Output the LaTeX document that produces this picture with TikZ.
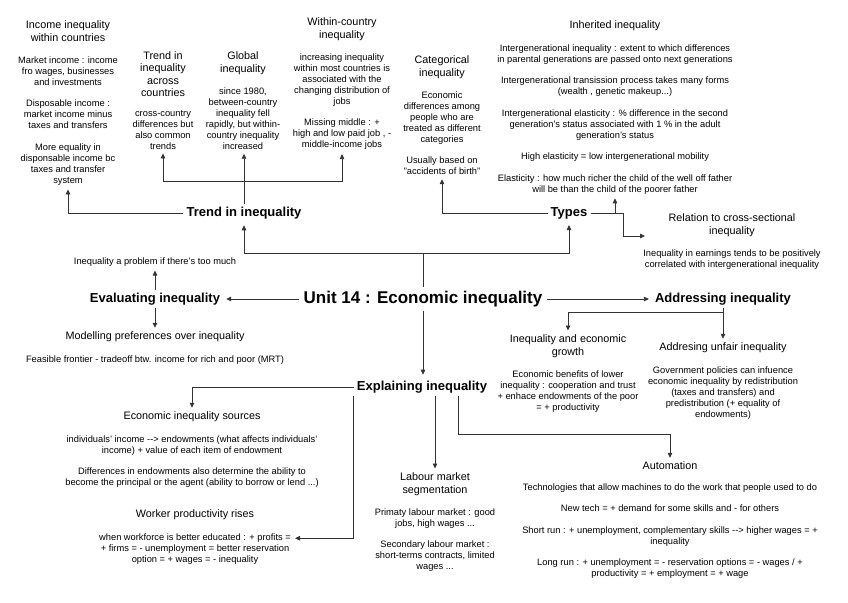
\documentclass[tikz,border=0pt]{standalone}
\usepackage{fontspec}
\setmainfont{Liberation Sans}
\usetikzlibrary{arrows.meta,positioning}

\begin{document}
\begin{tikzpicture}[x=1pt,y=-1pt,
  node distance=11pt,
  unitbox/.style={font=\fontsize{17}{20}\selectfont\bfseries,inner sep=4pt},
  head/.style={font=\fontsize{13}{15}\selectfont\bfseries,inner sep=3pt},
  topic/.style={align=center,font=\fontsize{10.8}{12.5}\selectfont,inner sep=1pt},
  note/.style={align=center,font=\fontsize{9.3}{11}\selectfont,inner sep=1pt},
  link/.style={line width=0.8pt,draw=black!80},
  arrow/.style={link,-{Triangle[length=5pt,width=4.5pt]},shorten >=3pt},
]
\useasboundingbox (0,0) rectangle (848,602);

% centre and the four branches
\node[unitbox] (unit) at (423,299) {Unit 14 : Economic inequality};
\node[head] (trend) at (244,213) {Trend in inequality};
\node[head] (types) at (569,213) {Types};
\node[head] (eval) at (155,299) {Evaluating inequality};
\node[head] (addr) at (723,299) {Addressing inequality};
\node[head] (expl) at (422,387) {Explaining inequality};

% trend in inequality
\node[topic] (incw) at (68,31) {Income inequality\\within countries};
\node[note,below=13pt of incw] (incb) {Market income : income\\fro wages, businesses\\and investments\\[10.5pt]Disposable income :\\market income minus\\taxes and transfers\\[10.5pt]More equality in\\disponsable income bc\\taxes and transfer\\system};
\node[topic] (across) at (163,74) {Trend in\\inequality\\across\\countries};
\node[note,below=of across] (acrossb) {cross-country\\differences but\\also common\\trends};
\node[topic] (global) at (243,63) {Global\\inequality};
\node[note,below=of global] (globalb) {since 1980,\\between-country\\inequality fell\\rapidly, but within-\\country inequality\\increased};
\node[topic] (within) at (342,29) {Within-country\\inequality};
\node[note,below=of within] (withinb) {increasing inequality\\within most countries is\\associated with the\\changing distribution of\\jobs\\[10.5pt]Missing middle : +\\high and low paid job , -\\middle-income jobs};

% types
\node[topic] (categ) at (442,67) {Categorical\\inequality};
\node[note,below=of categ] (categb) {Economic\\differences among\\people who are\\treated as different\\categories\\[10.5pt]Usually based on\\"accidents of birth"};
\node[topic] (inher) at (615,26) {Inherited inequality};
\node[note,below=of inher] (inherb) {Intergenerational inequality : extent to which differences\\in parental generations are passed onto next generations\\[10.5pt]Intergenerational transission process takes many forms\\(wealth , genetic makeup...)\\[10.5pt]Intergenerational elasticity : \% difference in the second\\generation's status associated with 1 \% in the adult\\generation's status\\[10.5pt]High elasticity = low intergenerational mobility\\[10.5pt]Elasticity : how much richer the child of the well off father\\will be than the child of the poorer father};
\node[topic] (relat) at (732,225) {Relation to cross-sectional\\inequality};
\node[note,below=of relat] (relatb) {Inequality in earnings tends to be positively\\correlated with intergenerational inequality};

% evaluating
\node[note] (prob) at (155,262) {Inequality a problem if there's too much};
\node[topic] (model) at (155,337) {Modelling preferences over inequality};
\node[note,below=of model] (modelb) {Feasible frontier - tradeoff btw. income for rich and poor (MRT)};

% addressing
\node[topic] (growth) at (568,346) {Inequality and economic\\growth};
\node[note,below=of growth] (growthb) {Economic benefits of lower\\inequality : cooperation and trust\\+ enhace endowments of the poor\\= + productivity};
\node[topic] (unfair) at (723,348) {Addresing unfair inequality};
\node[note,below=of unfair] (unfairb) {Government policies can infuence\\economic inequality by redistribution\\(taxes and transfers) and\\predistribution (+ equality of\\endowments)};

% explaining
\node[topic] (sources) at (192,417) {Economic inequality sources};
\node[note,below=of sources] (sourcesb) {individuals' income -{}-> endowments (what affects individuals'\\income) + value of each item of endowment\\[10.5pt]Differences in endowments also determine the ability to\\become the principal or the agent (ability to borrow or lend ...)};
\node[topic] (worker) at (195,515) {Worker productivity rises};
\node[note,below=of worker] (workerb) {when workforce is better educated : + profits =\\+ firms = - unemployment = better reservation\\option = + wages = - inequality};
\node[topic] (labour) at (435,484) {Labour market\\segmentation};
\node[note,below=of labour] (labourb) {Primaty labour market : good\\jobs, high wages ...\\[10.5pt]Secondary labour market :\\short-terms contracts, limited\\wages ...};
\node[topic] (auto) at (670,466) {Automation};
\node[note,below=of auto] (autob) {Technologies that allow machines to do the work that people used to do\\[10.5pt]New tech = + demand for some skills and - for others\\[10.5pt]Short run : + unemployment, complementary skills -{}-> higher wages = +\\inequality\\[10.5pt]Long run : + unemployment = - reservation options = - wages / +\\productivity = + employment = + wage};

% connectors
\coordinate (tb) at (423,253);
\draw[link] (unit.north) -- (tb);
\draw[arrow] (tb) -| (trend.south);
\draw[arrow] (tb) -| (types.south);
\draw[arrow] (trend.west) -| (incb.south);
\draw[arrow] (trend.north) -- (trend.north |- globalb.south);
\coordinate (tt) at (244,181);
\draw[arrow] (tt) -| (acrossb.south);
\draw[arrow] (tt) -| (withinb.south);
\draw[arrow] (types.west) -| (categb.south);
\draw[arrow] (types.east) -| (inherb.south);
\coordinate (tk) at (623,213);
\coordinate (rl) at (648,236);
\draw[arrow] (types.east) -- (tk) |- (rl);
\draw[arrow] (unit.west) -- (eval.east);
\draw[arrow] (eval.north) -- (prob.south);
\draw[arrow] (eval.south) -- (model.north);
\draw[arrow] (unit.east) -- (addr.west);
\coordinate (ab) at (723,312);
\draw[arrow] (addr.south) -- (unfair.north);
\draw[arrow] (ab) -| (growth.north);
\draw[arrow] (unit.south) -- (unit.south |- expl.north);
\draw[arrow] (expl.west) -| (sources.north);
\draw[arrow] (expl.south west) |- ([yshift=-6pt]workerb.north east);
\draw[arrow] (expl.south -| labour.north) -- (labour.north);
\draw[arrow] ([xshift=36pt]expl.south) -- ++(0,38) -| (auto.north);
\end{tikzpicture}
\end{document}
